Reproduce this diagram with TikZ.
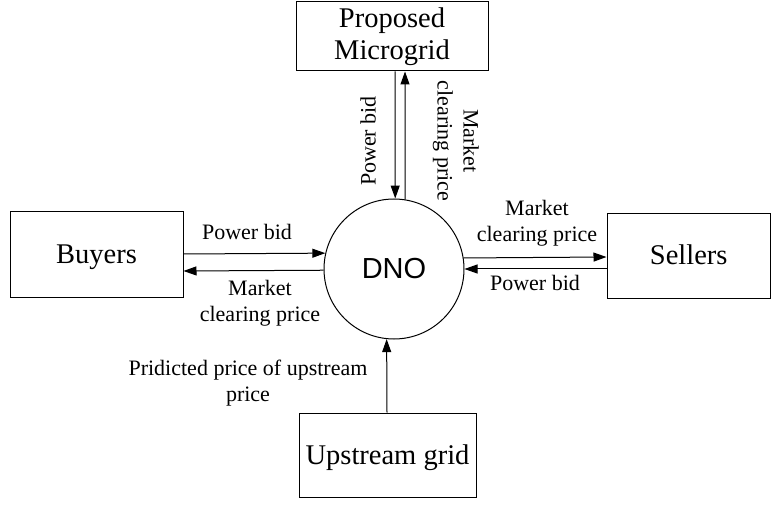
\documentclass[tikz,border=0pt]{standalone}
\usepackage{fontspec}
\setmainfont{Liberation Serif}
\newfontfamily\dnofont{Liberation Sans}
\usetikzlibrary{arrows.meta, positioning}

\begin{document}
\begin{tikzpicture}[x=1pt, y=1pt, >={Triangle[length=13pt, width=9pt]},
    bloco/.style={draw, line width=1pt, align=center, inner sep=0pt,
      font=\fontsize{28.5}{32}\selectfont},
    rotulo/.style={align=center, inner sep=0pt, font=\fontsize{22}{26}\selectfont},
    seta/.style={->, line width=1pt}]

    \useasboundingbox (0,0) rectangle (771,504);

    % Blocos
    \node[bloco, minimum width=192, minimum height=69] (micro) at (392,467.5) {Proposed\\Microgrid};
    \node[bloco, minimum width=173, minimum height=85] (buyers) at (96.5,249.5) {\raisebox{-9pt}[0pt][0pt]{Buyers}};
    \node[bloco, minimum width=163.5, minimum height=84] (sellers) at (688.75,248) {\raisebox{-9pt}[0pt][0pt]{Sellers}};
    \node[bloco, minimum width=177, minimum height=84] (upstream) at (387.5,49) {\raisebox{-9pt}[0pt][0pt]{Upstream grid}};

    % Circulo central
    \node[draw, circle, line width=1pt, minimum size=140, inner sep=0pt,
      font=\dnofont\fontsize{29}{34}\selectfont] (dno) at (394,235) {DNO};

    % Setas entre blocos e DNO
    \draw[seta] ([xshift=3pt]micro.south) -- (dno.89);
    \draw[seta] (dno.81) -- ([xshift=13pt]micro.south);
    \draw[seta] ([yshift=0.5pt]buyers.east) -- (dno.167.6);
    \draw[seta] (dno.181.6) -- ([yshift=-16.5pt]buyers.east);
    \draw[seta] (dno.9.9) -- ([yshift=-1pt]sellers.west);
    \draw[seta] ([yshift=-13pt]sellers.west) -- (dno.0);
    \draw[seta] ([xshift=-0.5pt]upstream.north) -- (dno.264.3);

    % Rotulos das setas
    \node[rotulo] (pbB) at (247,272) {Power bid};
    \node[rotulo] (mcB) at (260,201) {Market\\clearing price};
    \node[rotulo] (mcS) at (537,281) {Market\\clearing price};
    \node[rotulo] (pbS) at (535,221) {Power bid};
    \node[rotulo] (prev) at (248,121) {Pridicted price of upstream\\price};
    \node[rotulo, rotate=90] (pbM) at (368,363) {Power bid};
    \node[rotulo, rotate=-90] (mcM) at (456,363) {Market\\clearing price};

\end{tikzpicture}
\end{document}
